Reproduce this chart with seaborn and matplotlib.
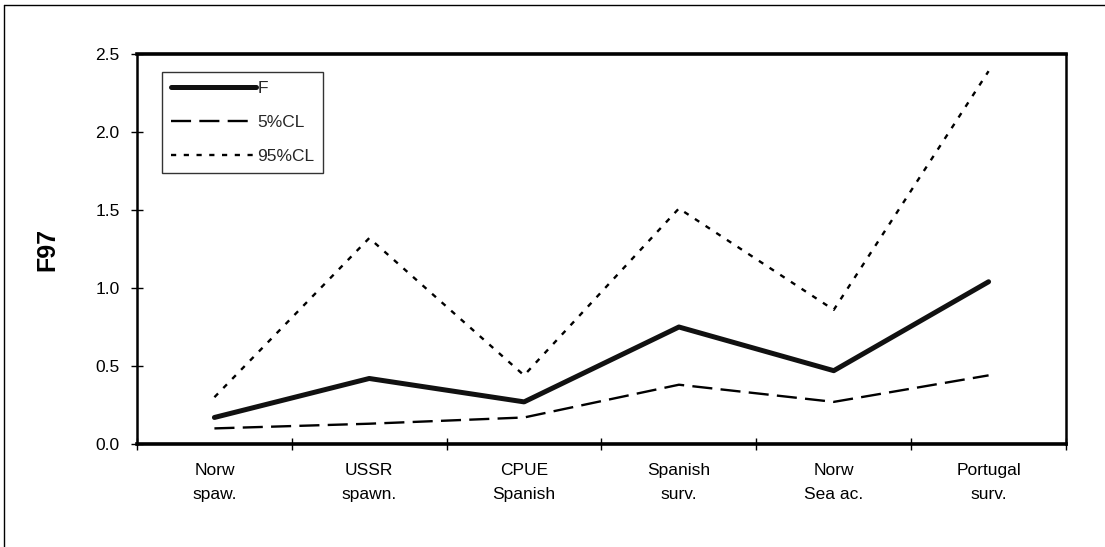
import pandas as pd
import numpy as np
import seaborn as sns
import matplotlib.pyplot as plt
from matplotlib.lines import Line2D
from matplotlib.ticker import FixedLocator, FormatStrFormatter

# data
categories = ["Norw\nspaw.", "USSR\nspawn.", "CPUE\nSpanish", "Spanish\nsurv.", "Norw\nSea ac.", "Portugal\nsurv."]
f_vals = [0.17, 0.42, 0.27, 0.75, 0.47, 1.04]
cl5_vals = [0.10, 0.13, 0.17, 0.38, 0.27, 0.44]
cl95_vals = [0.30, 1.32, 0.44, 1.51, 0.86, 2.39]
y_ticks = [0.0, 0.5, 1.0, 1.5, 2.0, 2.5]

df = pd.DataFrame({"cat": categories, "F": f_vals, "5%CL": cl5_vals, "95%CL": cl95_vals})

sns.set_theme(style="white")
plt.rcParams['font.family'] = ['Liberation Sans', 'DejaVu Sans']

fig = plt.figure(figsize=(11.05, 5.47), dpi=100)
ax = fig.add_axes([137/1105, 1 - 444/547, 929/1105, 390/547])

sns.lineplot(data=df, x="cat", y="F", ax=ax, color="#111111", linewidth=3.6,
             label="F", sort=False)
sns.lineplot(data=df, x="cat", y="5%CL", ax=ax, color="black", linewidth=1.7,
             label="5%CL", sort=False)
sns.lineplot(data=df, x="cat", y="95%CL", ax=ax, color="black", linewidth=1.7,
             label="95%CL", sort=False)
lines = ax.get_lines()
lines[1].set_dashes((8.5, 3.5))
lines[2].set_dashes((2.2, 3.2))

ax.set_xlim(-0.5, len(categories) - 0.5)
ax.set_ylim(0, 2.5)
ax.yaxis.set_major_locator(FixedLocator(y_ticks))
ax.yaxis.set_major_formatter(FormatStrFormatter("%.1f"))
ax.xaxis.set_minor_locator(FixedLocator(np.arange(-0.5, len(categories), 1.0)))

ax.tick_params(axis="x", which="major", length=0, pad=14, labelsize=12.5, colors="black")
ax.tick_params(axis="x", which="minor", bottom=True, direction="inout", length=8, width=1, color="black")
ax.tick_params(axis="y", left=True, direction="inout", length=9, width=1, pad=8,
               labelsize=12.5, colors="black")
for lab in ax.get_xticklabels():
    lab.set_linespacing(1.7)

ax.set_xlabel("")
ax.set_ylabel("F97", fontsize=18, fontweight="bold", labelpad=26, color="black")

for side, w in [("left", 1.8), ("bottom", 2.6), ("top", 2.6), ("right", 1.8)]:
    ax.spines[side].set_visible(True)
    ax.spines[side].set_color("black")
    ax.spines[side].set_linewidth(w)

leg = ax.legend(loc="upper left", bbox_to_anchor=(25/929, 1 - 18/390), handlelength=4.9,
                handletextpad=0.1, labelspacing=1.1, borderpad=0.5, borderaxespad=0,
                fontsize=12.5, frameon=True, fancybox=False)
leg.get_frame().set_edgecolor("black")
leg.get_frame().set_linewidth(1.0)

# outer frame of the scanned figure
fig.add_artist(Line2D([4/1105, 4/1105], [0, 1 - 5/547], color="black", lw=1.0, transform=fig.transFigure))
fig.add_artist(Line2D([4/1105, 1], [1 - 5/547, 1 - 5/547], color="black", lw=1.0, transform=fig.transFigure))

fig.savefig("out.png", dpi=100)
